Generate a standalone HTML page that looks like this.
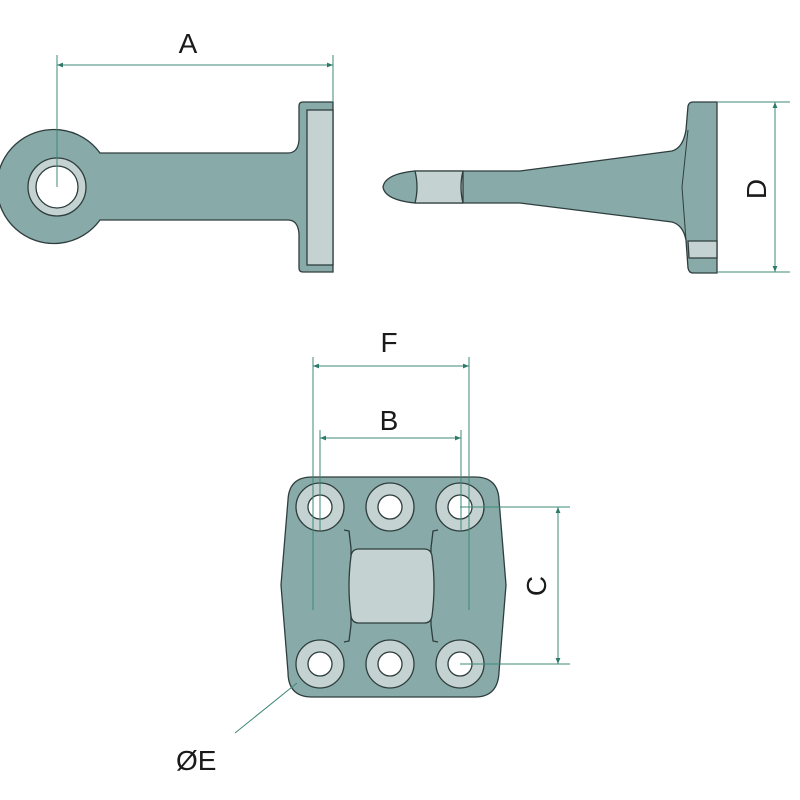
<!DOCTYPE html>
<html><head><meta charset="utf-8"><style>
html,body{margin:0;padding:0;background:#fff;width:800px;height:800px;overflow:hidden}
text{font-family:"Liberation Sans",sans-serif;fill:#1a1a1a}
</style></head><body>
<svg width="800" height="800" viewBox="0 0 800 800" xmlns="http://www.w3.org/2000/svg">
<defs>
<marker id="ar" viewBox="0 0 10 10" refX="10" refY="5" markerWidth="8" markerHeight="6" orient="auto-start-reverse" markerUnits="userSpaceOnUse">
<path d="M0,1 L10,5 L0,9 z" fill="#2e7a68"/></marker>
</defs>
<g stroke="#2e3d3d" stroke-width="1.3" fill="#88aba9">
<path d="M100,153 L288,153 Q298,153 299,140 L299,106 Q299,102 303,102 L333,102 L333,272 L303,272 Q299,272 299,268 L299,234 Q298,220 288,220 L100,220 A57,57 0 1 1 100,153 Z"/>
<rect x="307" y="110" width="26" height="155" fill="#c4d3d1"/>
<circle cx="57" cy="187" r="29" fill="#c4d3d1"/>
<circle cx="57" cy="187" r="21" fill="#fff"/>
<path d="M415,171 L520,171 L672,151 Q683,148 686,130 L688,106 Q689,102 693,102 L717,102 L717,273 L693,273 Q689,273 688,268 L686,240 Q683,225 672,222 L520,203 L415,203 Q385,200 383,187 Q385,174 415,171 Z"/>
<path d="M415,171 L463,171 L463,203 L415,203 Q419,187 415,171 Z" fill="#c4d3d1"/>
<path d="M463,171 Q459,187 463,203" fill="none"/>
<path d="M688,241 L717,241 L717,258 L689,258 Z" fill="#c4d3d1"/>
<path d="M688,130 L682,187 L686,240" fill="none" stroke-width="1"/>
<path d="M312,477 L475,477 Q498,477 499,500 L506,585 L499,672 Q498,697 475,697 L312,697 Q288,697 288,672 L281,585 L288,500 Q289,477 312,477 Z"/>
<path d="M344,530 L349,531 L351,548 L351,625 L349,641 L344,642" fill="none"/>
<path d="M438,530 L433,531 L431,548 L431,625 L433,641 L438,642" fill="none"/>
<path d="M359,549 L424,549 Q431,549 432,556 Q436,586 432,616 Q431,623 424,623 L359,623 Q352,623 351,616 Q347,586 351,556 Q352,549 359,549 Z" fill="#c4d3d1"/>
<g fill="#c4d3d1">
<circle cx="320" cy="507" r="24"/><circle cx="390" cy="507" r="24"/><circle cx="460" cy="507" r="24"/>
<circle cx="320" cy="664" r="24"/><circle cx="390" cy="664" r="24"/><circle cx="460" cy="664" r="24"/>
</g>
<g fill="#fff">
<circle cx="320" cy="507" r="12"/><circle cx="390" cy="507" r="12"/><circle cx="460" cy="507" r="12"/>
<circle cx="320" cy="664" r="12"/><circle cx="390" cy="664" r="12"/><circle cx="460" cy="664" r="12"/>
</g>
</g>
<g stroke="#3d8878" stroke-width="1" fill="none">
<line x1="57" y1="55" x2="57" y2="187"/>
<line x1="333" y1="55" x2="333" y2="102"/>
<line x1="57" y1="65" x2="333" y2="65" marker-start="url(#ar)" marker-end="url(#ar)"/>
<line x1="717" y1="102" x2="790" y2="102"/>
<line x1="717" y1="272" x2="790" y2="272"/>
<line x1="775" y1="102" x2="775" y2="272" marker-start="url(#ar)" marker-end="url(#ar)"/>
<line x1="313" y1="357" x2="313" y2="610"/>
<line x1="469" y1="357" x2="469" y2="610"/>
<line x1="313" y1="366" x2="469" y2="366" marker-start="url(#ar)" marker-end="url(#ar)"/>
<line x1="320" y1="430" x2="320" y2="530"/>
<line x1="461" y1="430" x2="461" y2="530"/>
<line x1="320" y1="438" x2="461" y2="438" marker-start="url(#ar)" marker-end="url(#ar)"/>
<line x1="460" y1="507" x2="570" y2="507"/>
<line x1="460" y1="664" x2="570" y2="664"/>
<line x1="558" y1="507" x2="558" y2="664" marker-start="url(#ar)" marker-end="url(#ar)"/>
<line x1="297" y1="683" x2="235" y2="733"/>
</g>
<text x="188" y="53" font-size="28" text-anchor="middle">A</text>
<text x="389" y="352" font-size="28" text-anchor="middle">F</text>
<text x="389" y="430" font-size="28" text-anchor="middle">B</text>
<text transform="translate(766,189) rotate(-90)" font-size="28" text-anchor="middle">D</text>
<text transform="translate(546,586) rotate(-90)" font-size="28" text-anchor="middle">C</text>
<text x="176" y="770" font-size="28">ØE</text>
</svg>
</body></html>
